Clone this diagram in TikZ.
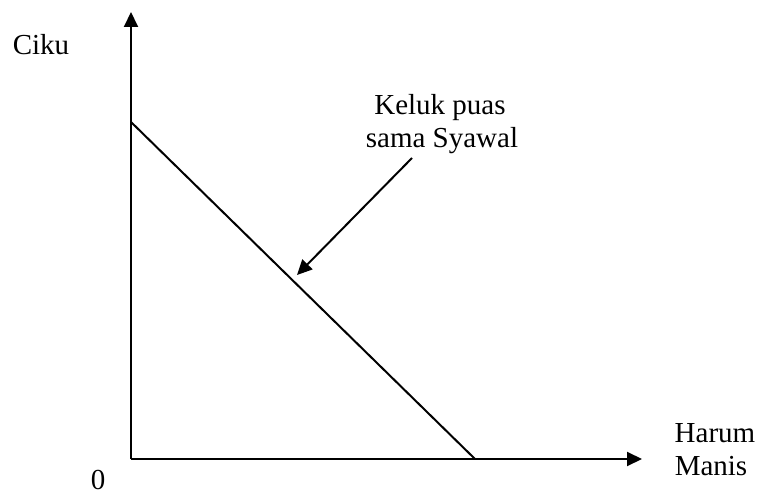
\documentclass[tikz,border=0pt]{standalone}
\usepackage{fontspec}
\setmainfont{Liberation Serif}
\usetikzlibrary{arrows.meta}
\begin{document}
\begin{tikzpicture}[x=1pt,y=-1pt,
  lbl/.style={font=\fontsize{29}{33}\selectfont, inner sep=0pt, anchor=base},
  axis/.style={line width=2pt, -{Triangle[width=14pt,length=15pt]}},
  curve/.style={line width=2pt}]
\useasboundingbox (0,0) rectangle (760,494);
\coordinate (O) at (131,459);
\coordinate (ytip) at (131,12);
\coordinate (xtip) at (642,459);
\coordinate (c1) at (131,122);
\coordinate (c2) at (475,459);
\coordinate (as) at (412,158);
\coordinate (at) at (297,275);
\draw[axis] (O) -- (ytip);
\draw[axis] (O) -- (xtip);
\draw[curve] (c1) -- (c2);
\draw[axis] (as) -- (at);
\node[lbl] (ciku) at (41,55) {Ciku};
\node[lbl] (keluk1) at (440,115) {Keluk puas};
\node[lbl] (keluk2) at (442,148) {sama Syawal};
\node[lbl] (harum) at (715,442) {Harum};
\node[lbl] (manis) at (711,475) {Manis};
\node[lbl] (zero) at (98,489) {0};
\end{tikzpicture}
\end{document}
